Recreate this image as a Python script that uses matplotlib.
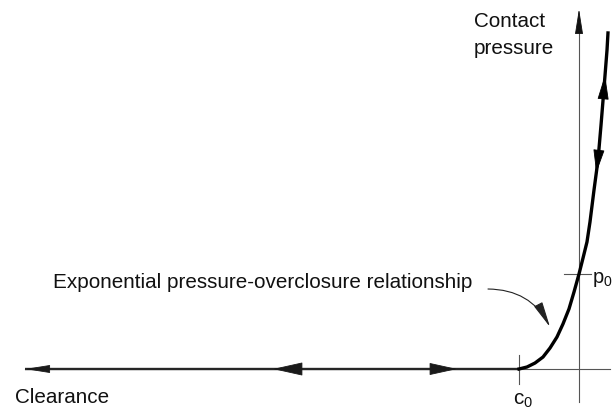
import matplotlib
matplotlib.use("Agg")
import matplotlib.pyplot as plt
import numpy as np
from matplotlib.patches import FancyArrowPatch

plt.rcParams["font.family"] = ["Liberation Sans", "DejaVu Sans"]
plt.rcParams["mathtext.fontset"] = "custom"
plt.rcParams["mathtext.rm"] = "Liberation Sans"
plt.rcParams["mathtext.it"] = "Liberation Sans"

# overclosure h (in units of c0) and contact pressure p (in units of p0)
curve_h = [-1.0, -0.867, -0.733, -0.6, -0.483, -0.367, -0.267, -0.167, -0.083,
           0.0, 0.067, 0.133, 0.183, 0.25, 0.317, 0.367, 0.417, 0.467, 0.483]
curve_p = [0.0, 0.021, 0.063, 0.126, 0.221, 0.337, 0.474, 0.632, 0.811,
           1.0, 1.168, 1.337, 1.547, 1.884, 2.2, 2.568, 2.958, 3.358, 3.537]

clearance_h = [-9.23, -1.0]
clearance_p = [0.0, 0.0]

# arrowheads on the clearance line: (tip, base)
clear_arrows = [(-9.233, -8.867), (-5.1, -4.65), (-2.033, -2.45)]
clear_widths = [7, 12, 11]
# arrowheads on the curve: (tip p, base p)
curve_arrows = [(3.095, 2.863), (2.063, 2.284)]

c0 = -1.0
p0 = 1.0

fig = plt.figure(figsize=(6.15, 4.12), dpi=100)
ax = fig.add_axes([0, 0, 1, 1])
ax.set_xlim(-9.65, 0.6)
ax.set_ylim(-0.4526, 3.884)
ax.axis("off")

PX = 1 / 1.389  # pixel -> points


def head(tip, base, length_px, width_px, color="k"):
    arr = FancyArrowPatch(
        base, tip,
        arrowstyle=f"-|>,head_length={length_px * PX},head_width={width_px * PX / 2}",
        mutation_scale=1, shrinkA=0, shrinkB=0, color=color, lw=0.6, zorder=5)
    ax.add_patch(arr)


axis_col = "#555555"
# axes
ax.plot([-9.23, 0.517], [0, 0], color=axis_col, lw=0.8, zorder=1)
ax.plot([0, 0], [-0.347, 3.56], color=axis_col, lw=0.8, zorder=1)
head((0, 3.79), (0, 3.558), 22, 7, color="#111111")

# ticks for c0 and p0
ax.plot([c0, c0], [-0.158, 0.147], color=axis_col, lw=0.8, zorder=1)
ax.plot([-0.25, 0.2], [p0, p0], color=axis_col, lw=0.8, zorder=1)

# clearance line + curve
ax.plot(clearance_h, clearance_p, color="#262626", lw=1.7, zorder=3,
        solid_capstyle="butt")
ax.plot(curve_h, curve_p, color="#000000", lw=2.4, zorder=3,
        solid_joinstyle="round")

for (tip, base), w in zip(clear_arrows, clear_widths):
    head((tip, 0), (base, 0), abs(tip - base) * 60, w, color="#1a1a1a")

for tip_p, base_p in curve_arrows:
    tip_h = np.interp(tip_p, curve_p, curve_h)
    base_h = np.interp(base_p, curve_p, curve_h)
    head((tip_h, tip_p), (base_h, base_p), abs(tip_p - base_p) * 95, 10)

fs = 14.9
txt = "#111111"
ax.text(-1.75, 3.6, "Contact", fontsize=fs, color=txt, va="baseline")
ax.text(-1.75, 3.32, "pressure", fontsize=fs, color=txt, va="baseline")
ax.text(-8.767, 0.853, "Exponential pressure-overclosure relationship",
        fontsize=fs, color=txt, va="baseline")
ax.text(-9.4, -0.358, "Clearance", fontsize=fs, color=txt, va="baseline")
ax.text(-1.1, -0.379, r"$\mathregular{c_0}$", fontsize=fs, color=txt, va="baseline")
ax.text(0.225, 0.905, r"$\mathregular{p_0}$", fontsize=fs - 0.5, color=txt, va="baseline")

# leader to the curve
ax.annotate("", xy=(-0.483, 0.442), xytext=(-1.517, 0.842),
            arrowprops=dict(arrowstyle=f"-|>,head_length={22 * PX},head_width={4 * PX}",
                            connectionstyle="arc3,rad=-0.3", color="#222222",
                            lw=0.8, shrinkA=0, shrinkB=0, mutation_scale=1))

fig.savefig("out.png", dpi=100)
